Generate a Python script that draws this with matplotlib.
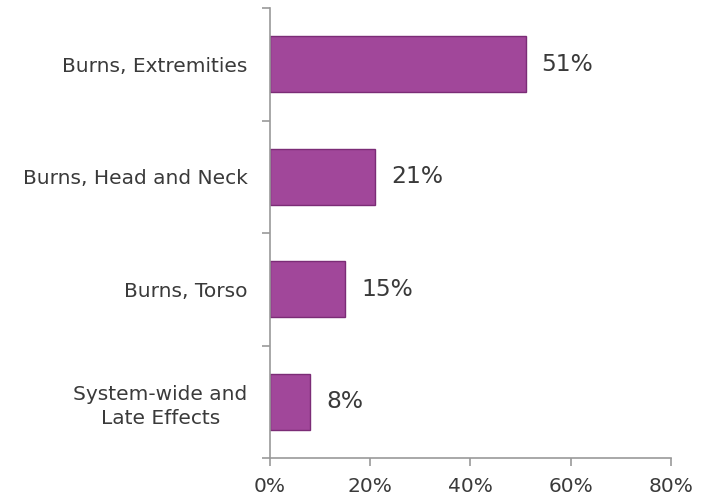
import numpy as np
import matplotlib.pyplot as plt

categories = ["Burns, Extremities", "Burns, Head and Neck", "Burns, Torso",
              "System-wide and\nLate Effects"]
values = [51, 21, 15, 8]
xticks = [0, 20, 40, 60, 80]

plt.rcParams['font.family'] = ['DejaVu Sans']

fig = plt.figure(figsize=(7.1, 5.01), dpi=100)
ax = fig.add_axes([0.380, 0.0858, 0.565, 0.898])

pos = np.arange(len(categories))
ax.barh(pos, values, height=0.5, color="#A1479A", edgecolor="#7B2C76", linewidth=1)

for p, v in zip(pos, values):
    ax.text(v + 3.2, p, f"{v}%", va="center", ha="left", fontsize=16.8, color="#3a3a3a")

ax.set_xlim(0, 80)
ax.set_ylim(len(categories) - 0.5, -0.5)
ax.set_xticks(xticks)
ax.set_xticklabels([f"{t}%" for t in xticks], fontsize=14.5, color="#3a3a3a")
ax.set_yticks(pos)
ax.set_yticklabels(categories, fontsize=14.5, color="#3a3a3a", multialignment="center",
                   linespacing=1.35)
ax.tick_params(axis="y", length=0, pad=16)
ax.set_yticks(np.arange(-0.5, len(categories), 1), minor=True)
ax.tick_params(axis="y", which="minor", length=6, color="#999999", width=1.2)
ax.tick_params(axis="x", length=6, color="#999999", width=1.2, pad=8)

for s in ["top", "right"]:
    ax.spines[s].set_visible(False)
for s in ["left", "bottom"]:
    ax.spines[s].set_color("#999999")
    ax.spines[s].set_linewidth(1.2)

fig.savefig("out.png", dpi=100)
